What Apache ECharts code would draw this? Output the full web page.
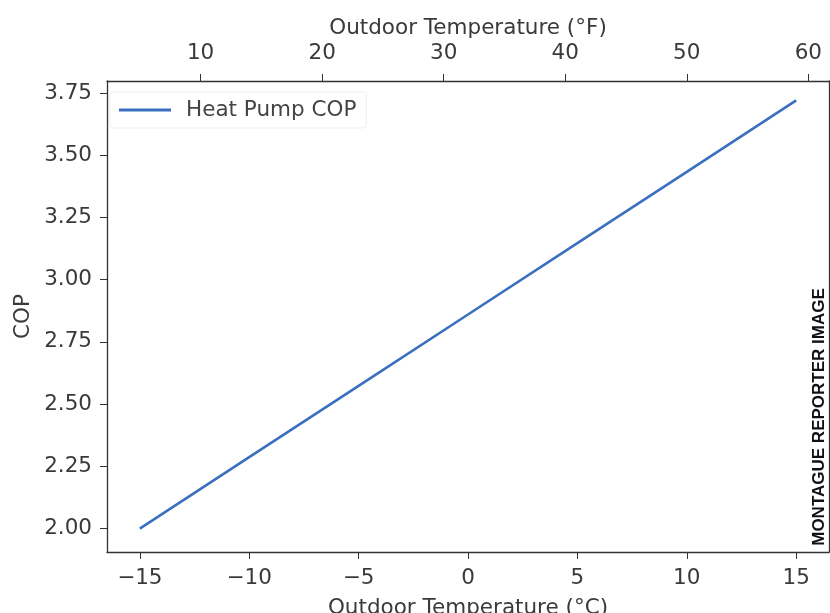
<!DOCTYPE html>
<html>
<head>
<meta charset="utf-8">
<script src="https://cdn.jsdelivr.net/npm/echarts@6/dist/echarts.min.js"></script>
<style>html,body{margin:0;padding:0;background:#fff}#c{width:830px;height:613px}</style>
</head>
<body>
<div id="c"></div>
<script>
// Data
var tempC = [-15, -10, -5, 0, 5, 10, 15];
var cop = [2.00, 2.287, 2.573, 2.86, 3.147, 3.433, 3.72];
var ticksC = [-15, -10, -5, 0, 5, 10, 15];
var ticksF = [10, 20, 30, 40, 50, 60];
var ticksCOP = [2.00, 2.25, 2.50, 2.75, 3.00, 3.25, 3.50, 3.75];
var seriesName = 'Heat Pump COP';

var minC = -16.5, maxC = 16.5;
var minF = minC * 9 / 5 + 32, maxF = maxC * 9 / 5 + 32;
var txt = '#3a3a3a';
var font = 'DejaVu Sans';
var fs = 21.5;
var axLine = {show: true, onZero: false, lineStyle: {color: '#333', width: 1.3}};
function minus(v) { return String(v).replace('-', '\u2212'); }

var chart = echarts.init(document.getElementById('c'), null, {renderer: 'canvas'});
chart.setOption({
  animation: false,
  backgroundColor: '#fff',
  grid: {left: 107, right: 1, top: 81, bottom: 61, containLabel: false, outerBoundsMode: 'none'},
  legend: {
    left: 110, top: 92,
    data: [{name: seriesName, icon: 'rect'}],
    itemWidth: 52, itemHeight: 3, itemGap: 10,
    padding: [7, 10, 7, 9],
    borderColor: '#efefef', borderWidth: 1, borderRadius: 3,
    textStyle: {fontFamily: font, fontSize: fs, color: '#444', padding: [0, 0, 0, 10]}
  },
  xAxis: [{
    type: 'value', position: 'bottom', min: minC, max: maxC,
    name: 'Outdoor Temperature (\u00b0C)', nameLocation: 'middle', nameGap: 45, nameMoveOverlap: false,
    nameTextStyle: {fontFamily: font, fontSize: fs, color: txt},
    axisLine: axLine,
    axisTick: {show: true, length: 7, customValues: ticksC, lineStyle: {color: '#333'}},
    axisLabel: {customValues: ticksC, margin: 15, fontFamily: font, fontSize: fs, color: txt, formatter: function (v) { return minus(v); }},
    splitLine: {show: false}
  }, {
    type: 'value', position: 'top', min: minF, max: maxF,
    name: 'Outdoor Temperature (\u00b0F)', nameLocation: 'middle', nameGap: 42, nameMoveOverlap: false,
    nameTextStyle: {fontFamily: font, fontSize: fs, color: txt},
    axisLine: axLine,
    axisTick: {show: true, length: 7, customValues: ticksF, lineStyle: {color: '#333'}},
    axisLabel: {customValues: ticksF, margin: 17, fontFamily: font, fontSize: fs, color: txt},
    splitLine: {show: false}
  }],
  yAxis: [{
    type: 'value', position: 'left', min: 1.906, max: 3.798,
    name: 'COP', nameLocation: 'middle', nameGap: 73, nameMoveOverlap: false,
    nameTextStyle: {fontFamily: font, fontSize: fs, color: txt},
    axisLine: axLine,
    axisTick: {show: true, length: 7, customValues: ticksCOP, lineStyle: {color: '#333'}},
    axisLabel: {customValues: ticksCOP, margin: 15, fontFamily: font, fontSize: fs, color: txt, formatter: function (v) { return v.toFixed(2); }},
    splitLine: {show: false}
  }, {
    type: 'value', position: 'right', min: 1.906, max: 3.798,
    axisLine: axLine, axisTick: {show: false}, axisLabel: {show: false}, splitLine: {show: false}
  }],
  series: [{
    name: seriesName, type: 'line', xAxisIndex: 0, yAxisIndex: 0,
    data: tempC.map(function (t, i) { return [t, cop[i]]; }),
    symbol: 'none', showSymbol: false,
    lineStyle: {color: '#3b6fbf', width: 2.6},
    itemStyle: {color: '#3b6fbf'}
  }],
  graphic: [{
    type: 'text', x: 819, y: 417, rotation: Math.PI / 2,
    style: {text: 'MONTAGUE REPORTER IMAGE', fontFamily: 'Liberation Sans', fontWeight: 'bold', fontSize: 17,
      fill: '#111', textAlign: 'center', textVerticalAlign: 'middle'}
  }]
});
</script>
</body>
</html>
